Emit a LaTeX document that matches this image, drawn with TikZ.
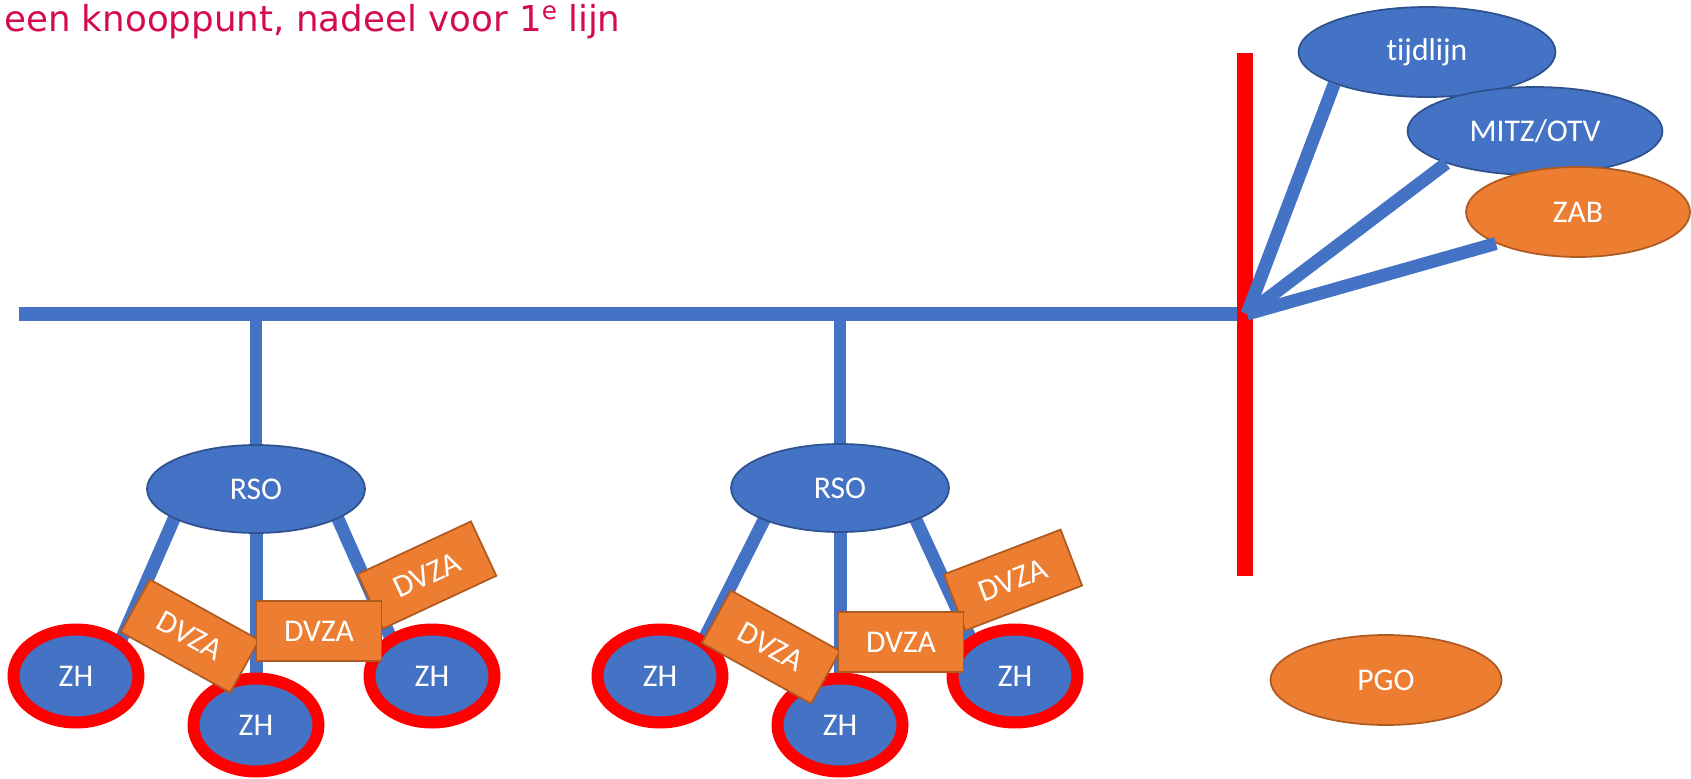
\documentclass[tikz,border=0pt]{standalone}
\usepackage{fontspec}
\setmainfont{Carlito}[Ligatures=NoCommon]
\newfontfamily\titlefont{DejaVu Sans}
\usetikzlibrary{shapes.geometric,backgrounds}

\definecolor{nodeblue}{RGB}{68,114,196}
\definecolor{blueedge}{RGB}{47,82,143}
\definecolor{nodeorange}{RGB}{237,125,49}
\definecolor{orangeedge}{RGB}{174,90,33}
\definecolor{titlered}{RGB}{213,10,80}

\tikzset{
	blueoval/.style={ellipse, fill=nodeblue, draw=blueedge, line width=1pt, text=white, inner sep=0pt,
		minimum width=4.36cm, minimum height=1.76cm, font=\fontsize{18}{21}\selectfont},
	orangeoval/.style={blueoval, fill=nodeorange, draw=orangeedge},
	zhoval/.style={blueoval, draw=red, line width=0.24cm, minimum width=2.5cm, minimum height=1.86cm},
	dvzabox/.style={rectangle, fill=nodeorange, draw=orangeedge, line width=1pt, text=white, inner sep=0pt,
		minimum width=2.5cm, minimum height=1.2cm, font=\fontsize{18}{21}\selectfont},
	bus/.style={draw=nodeblue, line width=0.28cm},
	stub/.style={draw=nodeblue, line width=0.24cm, shorten >=-0.2cm},
	link/.style={draw=nodeblue, line width=0.26cm, shorten <=-0.2cm, shorten >=-0.2cm},
	hublink/.style={draw=nodeblue, line width=0.26cm},
	redbar/.style={draw=red, line width=0.32cm}
}

\begin{document}
\begin{tikzpicture}[x=0.02cm, y=-0.02cm]
	\useasboundingbox (0,0) rectangle (1691,778);
	
	\coordinate (lineStart) at (19,314);
	\coordinate (hub) at (1247,314);
	\coordinate (redTop) at (1245,53);
	\coordinate (redBottom) at (1245,576);
	
	\node[anchor=base west, text=titlered, font=\titlefont\fontsize{20.3}{24}\selectfont] (title) at (-2,31) {een knooppunt, nadeel voor 1\raisebox{0.24cm}{\fontsize{14}{14}\selectfont e} lijn};
	
	% first group
	\node[blueoval] (rsoA) at (256,489) {RSO};
	\node[zhoval] (zhA1) at (76,676) {ZH};
	\node[zhoval] (zhA2) at (256,725) {ZH};
	\node[zhoval] (zhA3) at (432,676) {ZH};
	\node[dvzabox, rotate=25] (dvzaA3) at (427,575) {DVZA};
	\node[dvzabox, rotate=-29] (dvzaA1) at (190,636) {DVZA};
	\node[dvzabox] (dvzaA2) at (319,631) {DVZA};
	
	% second group
	\node[blueoval] (rsoB) at (840,488) {RSO};
	\node[zhoval] (zhB1) at (660,676) {ZH};
	\node[zhoval] (zhB2) at (840,725) {ZH};
	\node[zhoval] (zhB3) at (1015,676) {ZH};
	\node[dvzabox, rotate=21] (dvzaB3) at (1013,580) {DVZA};
	\node[dvzabox, rotate=-29] (dvzaB1) at (771,647) {DVZA};
	\node[dvzabox] (dvzaB2) at (901,642) {DVZA};
	
	\begin{pgfonlayer}{background}
		\draw[bus] (lineStart) -- (hub);
		\draw[stub] (rsoA.north |- hub) -- (rsoA.north);
		\draw[stub] (rsoB.north |- hub) -- (rsoB.north);
		\draw[link] (rsoA.200) -- (zhA1.40);
		\draw[link] (rsoA.south) -- (zhA2.north);
		\draw[link] (rsoA.340) -- (zhA3.136);
		\draw[link] (rsoB.203) -- (zhB1.41);
		\draw[link] (rsoB.south) -- (zhB2.north);
		\draw[link] (rsoB.337) -- (zhB3.139);
	\end{pgfonlayer}
	
	% right part
	\draw[redbar] (redTop) -- (redBottom);
	\node[blueoval, minimum width=5.14cm, minimum height=1.8cm] (tijdlijn) at (1427,52) {tijdlijn};
	\node[blueoval, minimum width=5.1cm] (mitz) at (1535,131) {MITZ/OTV};
	\node[orangeoval, minimum width=4.48cm, minimum height=1.8cm] (zab) at (1578,212) {ZAB};
	\node[orangeoval, minimum width=4.62cm, minimum height=1.8cm] (pgo) at (1386,680) {PGO};
	\draw[hublink] (hub) -- (tijdlijn.199);
	\draw[hublink] (hub) -- (mitz.200);
	\draw[hublink] (hub) -- (zab.201);
\end{tikzpicture}
\end{document}
